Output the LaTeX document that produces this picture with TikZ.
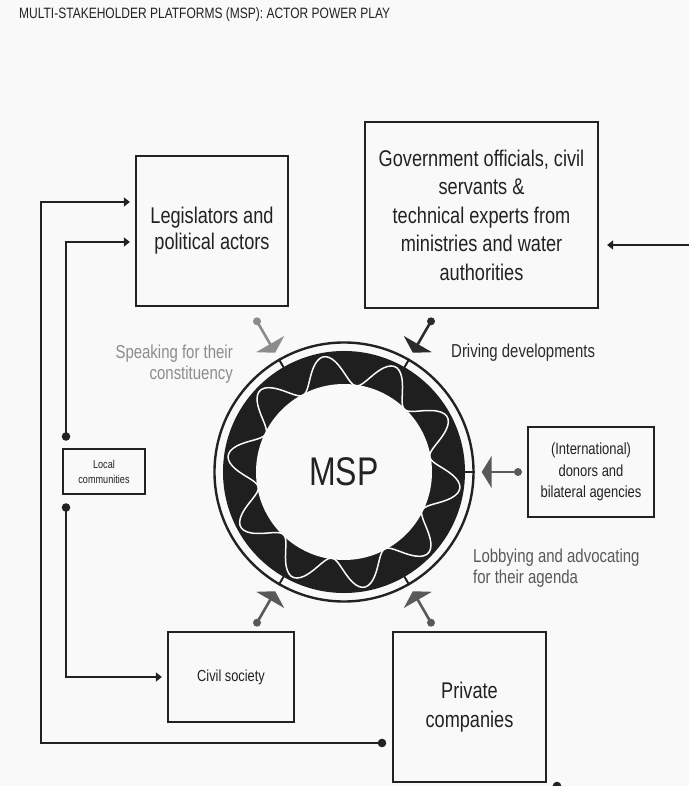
\documentclass[tikz,border=0pt]{standalone}
\usepackage{fontspec}
\setmainfont{Liberation Sans}[FakeStretch=0.8]
\usetikzlibrary{arrows.meta}

\definecolor{ink}{HTML}{222222}
\definecolor{paper}{HTML}{F9F9F9}
\definecolor{pale}{HTML}{8C8C8C}
\definecolor{mid}{HTML}{595959}
\definecolor{dark}{HTML}{2B2B2B}
\definecolor{ring}{HTML}{1F1F1F}

\tikzset{
  actor/.style={draw=ink, line width=2.2pt, text=ink, align=center, inner sep=0pt},
  big/.style={font=\fontsize{22.7}{28.5}\selectfont},
  note/.style={font=\fontsize{18.7}{21.5}\selectfont, inner sep=0pt},
  link/.style={draw=ink, line width=1.4pt, -{Triangle[length=6pt,width=9pt]}, shorten >=5pt},
  feed/.style={line width=2.6pt, -{Triangle[length=10pt,width=32pt]}, shorten >=7pt},
}

\begin{document}
\begin{tikzpicture}[x=1pt,y=1pt]
  \fill[paper] (-344,472) rectangle (345,-314);
  \useasboundingbox (-344,472) rectangle (345,-314);

  \node[anchor=west, inner sep=0pt, text=ink, font=\fontsize{15}{16}\selectfont] (title) at (-325,457) {MULTI-STAKEHOLDER PLATFORMS (MSP): ACTOR POWER PLAY};

  % the platform: black ring with a white wave, MSP in the middle
  \fill[ring] (0,0) circle (121);
  \fill[paper] (0,0) circle (88);
  \draw[paper, line width=1.5pt, smooth, domain=0:360, samples=241] plot (\x:{102+15*cos(10*(\x-100))});
  \node[circle, draw=ink, line width=2.4pt, minimum size=259pt, inner sep=0pt, text=ink, font=\fontsize{40}{40}\selectfont] (msp) at (0,0) {MSP};

  % actors
  \node[actor, big, minimum width=152pt, minimum height=150pt, font=\fontsize{22.7}{26}\selectfont] (leg) at (-132,241) {Legislators and\\political actors};
  \node[actor, big, minimum width=233pt, minimum height=186pt] (gov) at (137.5,257) {Government officials, civil\\servants \&\\technical experts from\\ministries and water\\authorities};
  \node[actor, minimum width=126pt, minimum height=90pt, font=\fontsize{16.2}{21.5}\selectfont] (don) at (247,0) {(International)\\donors and\\bilateral agencies};
  \node[actor, line width=2pt, minimum width=82pt, minimum height=45pt, font=\fontsize{11.4}{15}\selectfont] (loc) at (-240,0) {Local\\communities};
  \node[actor, minimum width=126pt, minimum height=90pt, font=\fontsize{16}{20}\selectfont] (civ) at (-113,-205) {Civil society};
  \node[actor, big, minimum width=153pt, minimum height=150pt] (priv) at (125.5,-235) {Private\\companies};

  % ways of acting on the platform
  \node[note, text=pale, align=right, anchor=east] (speak) at (-111,108) {Speaking for their\\constituency};
  \node[note, text=dark, anchor=west] (drive) at (107,119) {Driving developments};
  \node[note, text=mid, align=left, anchor=west] (lobby) at (129,-96) {Lobbying and advocating\\for their agenda};

  % entry points on the ring
  \foreach \a/\c/\n in {120/pale/leg, 60/dark/gov, 0/mid/don, -60/mid/priv, -120/mid/civ} {
    \draw[ink, line width=2pt] (\a:120) -- (msp.\a);
    \coordinate (src\n) at (\a:174);
    \fill[\c] (src\n) circle (4);
    \draw[feed, \c] (src\n) -- (msp.\a);
  }

  % links between actors
  \coordinate (pdot) at (38,-271);
  \coordinate (lup) at ([xshift=4pt,yshift=12pt]loc.north west);
  \coordinate (ldn) at ([xshift=4pt,yshift=-12pt]loc.south west);
  \coordinate (rin) at (345,227);
  \coordinate (pout) at (213,-314);
  \draw[link] (pdot) -| ([xshift=-94pt,yshift=29pt]leg.west) -- ([yshift=29pt]leg.west);
  \draw[link] (lup) |- ([yshift=-11pt]leg.west);
  \draw[link] (ldn) |- (civ.west);
  \draw[link, shorten >=8pt] (rin) -- ([yshift=-30pt]gov.east);
  \draw[gray!20, line width=1pt] (pout) -- (345,-314);
  \foreach \p in {pdot,lup,ldn,pout} \fill[ink] (\p) circle (4.3);
\end{tikzpicture}
\end{document}
